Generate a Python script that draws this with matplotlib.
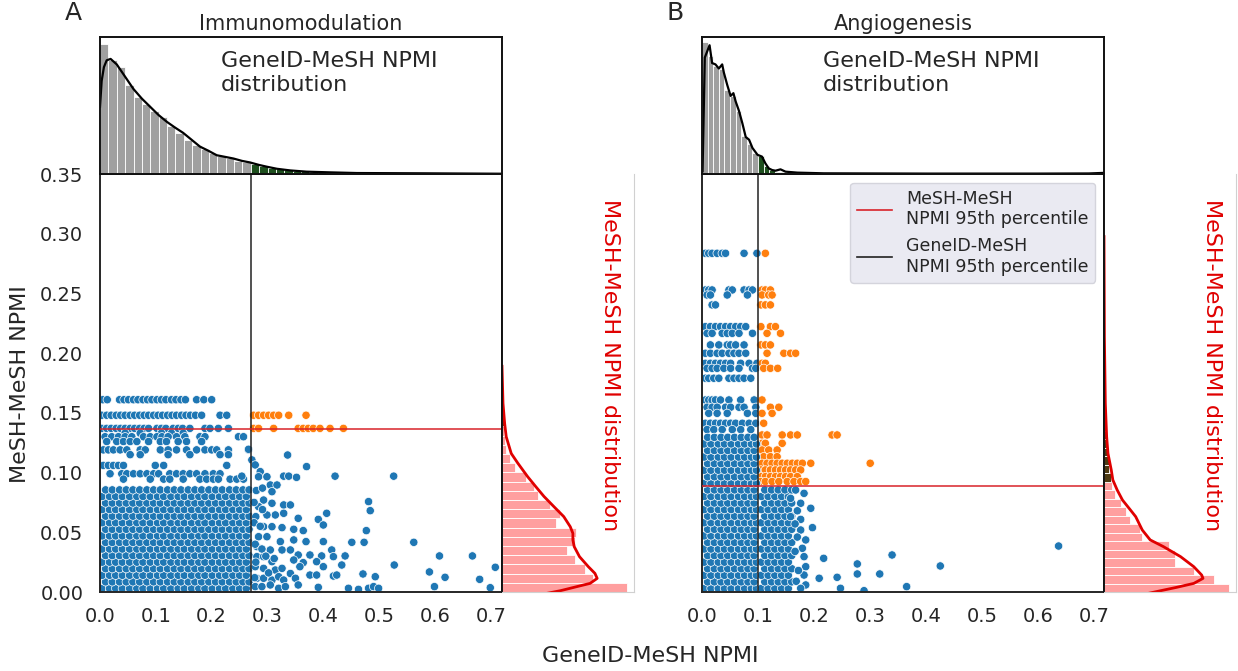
import numpy as np
import matplotlib
matplotlib.use("Agg")
import matplotlib.pyplot as plt
from matplotlib.lines import Line2D

# ---------------- data ----------------
# 95th percentile thresholds (GeneID-MeSH on x, MeSH-MeSH on y)
a_thr_x, a_thr_y = 0.27, 0.1365
b_thr_x, b_thr_y = 0.10, 0.089

# --- Panel A: Immunomodulation ---
a_row_y = [0.161, 0.148, 0.137, 0.133, 0.130, 0.126, 0.119, 0.115, 0.106, 0.099, 0.0945]
a_row_x = [
    [0.005, 0.013, 0.035, 0.043, 0.051, 0.060, 0.068, 0.077, 0.085, 0.093, 0.102, 0.110, 0.118, 0.128,
     0.136, 0.145, 0.153, 0.173, 0.186, 0.200],
    [0.003, 0.012, 0.020, 0.029, 0.037, 0.045, 0.054, 0.062, 0.071, 0.079, 0.087, 0.096, 0.104, 0.112,
     0.121, 0.129, 0.137, 0.146, 0.154, 0.162, 0.171, 0.182, 0.215, 0.227,
     0.275, 0.284, 0.293, 0.302, 0.311, 0.320, 0.338, 0.369],
    [0.003, 0.012, 0.020, 0.029, 0.037, 0.045, 0.054, 0.062, 0.071, 0.079, 0.087, 0.102, 0.110, 0.118,
     0.131, 0.140, 0.148, 0.161, 0.188, 0.197, 0.212, 0.230,
     0.275, 0.284, 0.311, 0.355, 0.364, 0.373, 0.382, 0.394, 0.412, 0.436],
    [0.045, 0.072, 0.110, 0.128, 0.149],
    [0.009, 0.021, 0.033, 0.045, 0.057, 0.078, 0.090, 0.102, 0.111, 0.122, 0.137, 0.152, 0.179, 0.188,
     0.248, 0.257],
    [0.012, 0.030, 0.042, 0.054, 0.066, 0.087, 0.108, 0.119, 0.140, 0.155, 0.182],
    [0.006, 0.015, 0.024, 0.036, 0.048, 0.072, 0.081, 0.108, 0.122, 0.137, 0.155, 0.173, 0.188, 0.200,
     0.209, 0.230, 0.266],
    [0.054, 0.072, 0.122, 0.161, 0.215, 0.230],
    [0.006, 0.015, 0.024, 0.033, 0.042, 0.099, 0.114, 0.227],
    [0.018, 0.039, 0.048, 0.060, 0.072, 0.084, 0.096, 0.105, 0.125, 0.137, 0.149, 0.161, 0.173, 0.188,
     0.203, 0.215],
    [0.042, 0.090, 0.114, 0.125, 0.149, 0.179, 0.191, 0.203, 0.212, 0.233, 0.245, 0.257],
]
a_dense_y = [0.003, 0.0085, 0.014, 0.0195, 0.025, 0.0305, 0.036, 0.0415, 0.047, 0.0525, 0.058, 0.0635,
             0.069, 0.0745, 0.080, 0.0855]
a_dense_x_even = [0.004, 0.017, 0.028, 0.040, 0.053, 0.066, 0.077, 0.090, 0.103, 0.114, 0.127, 0.140,
                  0.151, 0.164, 0.177, 0.188, 0.201, 0.214, 0.225, 0.238, 0.250, 0.262]
a_dense_x_odd = [0.010, 0.022, 0.035, 0.047, 0.059, 0.071, 0.084, 0.096, 0.108, 0.121, 0.133, 0.145,
                 0.158, 0.170, 0.182, 0.195, 0.207, 0.219, 0.232, 0.244, 0.256, 0.267]
a_sparse = [
    (0.266, 0.1195), (0.336, 0.1147), (0.272, 0.1106), (0.278, 0.1064), (0.370, 0.105), (0.287, 0.1008),
    (0.284, 0.0965), (0.299, 0.0965), (0.329, 0.097), (0.338, 0.097), (0.352, 0.096), (0.421, 0.097),
    (0.526, 0.097), (0.254, 0.097), (0.305, 0.0896), (0.317, 0.0896), (0.308, 0.084), (0.293, 0.077),
    (0.308, 0.0743), (0.284, 0.0715), (0.329, 0.0729), (0.341, 0.0729), (0.481, 0.0757), (0.484, 0.0681),
    (0.406, 0.0659), (0.391, 0.0608), (0.400, 0.0561), (0.355, 0.0617), (0.329, 0.0659), (0.314, 0.0645),
    (0.299, 0.0645), (0.279, 0.0631), (0.293, 0.0547), (0.308, 0.0547), (0.326, 0.0539), (0.347, 0.0525),
    (0.364, 0.0514), (0.477, 0.0514), (0.284, 0.0463), (0.299, 0.0463), (0.323, 0.0422), (0.347, 0.0436),
    (0.369, 0.0422), (0.400, 0.0422), (0.451, 0.0416), (0.473, 0.0416), (0.562, 0.0416), (0.281, 0.038),
    (0.305, 0.0352), (0.326, 0.0352), (0.341, 0.0352), (0.415, 0.0352), (0.355, 0.031), (0.376, 0.031),
    (0.397, 0.0302), (0.418, 0.0296), (0.439, 0.0302), (0.608, 0.0302), (0.667, 0.0302), (0.281, 0.0296),
    (0.293, 0.0296), (0.347, 0.0268), (0.308, 0.0254), (0.364, 0.0246), (0.388, 0.0254), (0.433, 0.0226),
    (0.527, 0.0226), (0.358, 0.0212), (0.400, 0.0212), (0.708, 0.0207), (0.278, 0.0212), (0.293, 0.0198),
    (0.314, 0.0184), (0.326, 0.0198), (0.341, 0.0155), (0.590, 0.0168), (0.471, 0.0151), (0.376, 0.0142),
    (0.388, 0.0142), (0.418, 0.0134), (0.424, 0.0142), (0.493, 0.0128), (0.618, 0.0123), (0.680, 0.0106),
    (0.350, 0.0115), (0.281, 0.0115), (0.293, 0.0115), (0.308, 0.010), (0.320, 0.0128), (0.329, 0.010),
    (0.278, 0.0045), (0.290, 0.0045), (0.305, 0.0059), (0.320, 0.0031), (0.332, 0.0045), (0.355, 0.0059),
    (0.391, 0.0039), (0.445, 0.0031), (0.463, 0.0022), (0.481, 0.0031), (0.490, 0.0045), (0.499, 0.0031),
    (0.599, 0.0045), (0.699, 0.0036), (0.276, 0.058), (0.278, 0.040), (0.279, 0.025), (0.277, 0.012),
    (0.290, 0.036), (0.287, 0.055), (0.291, 0.069), (0.297, 0.030), (0.312, 0.028), (0.302, 0.016),
    (0.280, 0.085), (0.276, 0.075), (0.291, 0.087),
]
# top marginal: GeneID-MeSH histogram (bin width 0.015), heights relative to panel height
a_top_bin = 0.015
a_top_h = [0.95, 0.83, 0.78, 0.65, 0.56, 0.51, 0.46, 0.415, 0.35, 0.30, 0.25, 0.21, 0.185, 0.15, 0.13,
           0.115, 0.096, 0.084,
           0.070, 0.058, 0.046, 0.038, 0.030, 0.024, 0.019, 0.015, 0.012, 0.010, 0.009, 0.008, 0.007,
           0.006, 0.005, 0.005, 0.004, 0.004, 0.003, 0.003, 0.003, 0.002, 0.002, 0.002, 0.002, 0.002,
           0.001, 0.001, 0.001, 0.001]
a_top_kde_x = [0.0, 0.003, 0.007, 0.012, 0.019, 0.030, 0.045, 0.060, 0.075, 0.090, 0.105, 0.120, 0.134,
               0.149, 0.164, 0.179, 0.194, 0.209, 0.224, 0.239, 0.254, 0.269, 0.284, 0.299, 0.317, 0.341,
               0.370, 0.412, 0.460, 0.580, 0.717]
a_top_kde_y = [0.49, 0.68, 0.78, 0.83, 0.84, 0.80, 0.71, 0.62, 0.55, 0.49, 0.43, 0.38, 0.34, 0.30, 0.25,
               0.20, 0.17, 0.137, 0.125, 0.113, 0.096, 0.084, 0.067, 0.053, 0.038, 0.026, 0.017, 0.012,
               0.007, 0.005, 0.002]
# right marginal: MeSH-MeSH histogram (bin width 0.0077), widths relative to panel width
a_right_bin = 0.0077
a_right_w = [0.95, 0.69, 0.63, 0.55, 0.49, 0.55, 0.56, 0.41, 0.44, 0.36, 0.27, 0.245, 0.18, 0.095,
             0.057, 0.03, 0.02, 0.015, 0.012, 0.01, 0.008]
a_right_kde_x = [0.0, 0.0075, 0.02, 0.032, 0.070, 0.119, 0.194, 0.256, 0.318, 0.393, 0.468, 0.517, 0.537,
                 0.537, 0.547, 0.587, 0.654, 0.704, 0.721, 0.667, 0.567, 0.443, 0.30]
a_right_kde_y = [0.189, 0.158, 0.1412, 0.130, 0.116, 0.108, 0.0966, 0.0882, 0.080, 0.0715, 0.0631,
                 0.0547, 0.0491, 0.0436, 0.038, 0.0296, 0.0212, 0.0156, 0.0114, 0.0072, 0.0045, 0.0011,
                 -0.002]

# --- Panel B: Angiogenesis ---
b_row_y = [0.2836, 0.2529, 0.2487, 0.2404, 0.2222, 0.2166, 0.2069, 0.1999, 0.1915, 0.1873, 0.1790,
           0.1608, 0.1547, 0.1496, 0.1413, 0.1360, 0.1315, 0.1245, 0.1189, 0.1133, 0.1078, 0.1022,
           0.0966, 0.0925]
b_row_x = [
    [0.006, 0.012, 0.018, 0.027, 0.036, 0.042, 0.075, 0.098, 0.113],
    [0.006, 0.012, 0.018, 0.048, 0.054, 0.075, 0.084, 0.090, 0.107, 0.113, 0.122],
    [0.009, 0.015, 0.045, 0.081, 0.107, 0.119, 0.125],
    [0.018, 0.024, 0.105, 0.113, 0.122],
    [0.006, 0.015, 0.024, 0.033, 0.042, 0.051, 0.060, 0.069, 0.078, 0.105, 0.122, 0.131],
    [0.009, 0.018, 0.036, 0.045, 0.054, 0.066, 0.090, 0.116, 0.140],
    [0.015, 0.030, 0.045, 0.051, 0.060, 0.075, 0.105, 0.113, 0.122],
    [0.006, 0.015, 0.027, 0.036, 0.048, 0.057, 0.066, 0.078, 0.116, 0.146, 0.158, 0.167],
    [0.006, 0.015, 0.024, 0.033, 0.042, 0.051, 0.069, 0.084, 0.098, 0.107, 0.113],
    [0.009, 0.018, 0.027, 0.039, 0.051, 0.066, 0.090, 0.096, 0.110, 0.122, 0.135],
    [0.006, 0.012, 0.021, 0.030, 0.048, 0.057, 0.066, 0.075, 0.087],
    [0.006, 0.012, 0.018, 0.024, 0.033, 0.048, 0.069, 0.093, 0.107],
    [0.009, 0.018, 0.027, 0.042, 0.051, 0.066, 0.075, 0.096, 0.122, 0.137],
    [0.012, 0.027, 0.045, 0.081, 0.096, 0.107, 0.125],
    [0.006, 0.015, 0.024, 0.033, 0.042, 0.051, 0.060, 0.072, 0.084, 0.096, 0.110],
    [0.009, 0.021, 0.036, 0.054, 0.069, 0.087],
    [0.107, 0.116, 0.143, 0.158, 0.170, 0.232, 0.241],
    [0.107, 0.113, 0.143],
    [0.107, 0.119, 0.134],
    [0.110, 0.122, 0.134],
    [0.107, 0.116, 0.125, 0.134, 0.143, 0.152, 0.161, 0.170, 0.179, 0.194, 0.300],
    [0.105, 0.113, 0.122, 0.131, 0.140, 0.149, 0.158, 0.167, 0.176],
    [0.105, 0.113, 0.122, 0.131, 0.140, 0.149, 0.158, 0.170],
    [0.105, 0.113, 0.125, 0.137, 0.152, 0.164, 0.176, 0.185],
]
b_dense_y = [0.003, 0.0085, 0.014, 0.0195, 0.025, 0.0305, 0.036, 0.0415, 0.047, 0.0525, 0.058, 0.0635,
             0.069, 0.0745, 0.080, 0.0855, 0.091, 0.0965, 0.102, 0.1075, 0.113, 0.1185, 0.124, 0.1295]
b_dense_x_even = [0.004, 0.016, 0.029, 0.040, 0.052, 0.065, 0.076, 0.088, 0.097]
b_dense_x_odd = [0.010, 0.022, 0.034, 0.046, 0.058, 0.070, 0.082, 0.093]
b_right_y = [0.003, 0.0085, 0.014, 0.0195, 0.025, 0.0305, 0.036, 0.0415, 0.047, 0.0525, 0.058, 0.0635,
             0.069, 0.0745, 0.080, 0.0855]
b_right_x_even = [0.106, 0.118, 0.130, 0.142, 0.154]
b_right_x_odd = [0.112, 0.124, 0.136, 0.148, 0.160]
b_sparse = [
    (0.167, 0.0854), (0.182, 0.0826), (0.158, 0.0784), (0.176, 0.0743), (0.194, 0.0701), (0.158, 0.0631),
    (0.176, 0.0608), (0.197, 0.0539), (0.176, 0.0519), (0.185, 0.0436), (0.179, 0.0366), (0.182, 0.0296),
    (0.185, 0.0212), (0.182, 0.0142), (0.185, 0.0059), (0.176, 0.0031), (0.217, 0.0282), (0.277, 0.0235),
    (0.339, 0.031), (0.425, 0.0218), (0.636, 0.0385), (0.209, 0.0115), (0.241, 0.0123), (0.277, 0.0151),
    (0.317, 0.0151), (0.365, 0.0045), (0.247, 0.0031), (0.289, 0.0011), (0.170, 0.046), (0.166, 0.034),
    (0.172, 0.018), (0.168, 0.009), (0.166, 0.057), (0.170, 0.068),
]
b_top_bin = 0.01
b_top_h = [0.96, 0.86, 0.79, 0.77, 0.61, 0.57, 0.46, 0.28, 0.22, 0.15,
           0.13, 0.055, 0.03, 0.018, 0.012, 0.010, 0.008, 0.006, 0.005, 0.004, 0.004, 0.003, 0.003,
           0.003, 0.002, 0.002, 0.002, 0.002, 0.002, 0.002, 0.002, 0.002, 0.002, 0.001, 0.001, 0.001,
           0.001, 0.001, 0.001, 0.001, 0.001, 0.001, 0.001, 0.001, 0.001, 0.001, 0.001, 0.001, 0.001,
           0.001, 0.001, 0.001, 0.001, 0.001, 0.001, 0.001, 0.001, 0.001, 0.001, 0.001, 0.001, 0.001,
           0.001, 0.001, 0.001, 0.001, 0.001, 0.002, 0.002, 0.003, 0.004]
b_top_kde_x = [0.001, 0.005, 0.0135, 0.018, 0.024, 0.030, 0.036, 0.039, 0.045, 0.051, 0.056, 0.060,
               0.066, 0.072, 0.078, 0.084, 0.090, 0.099, 0.107, 0.113, 0.119, 0.125, 0.131, 0.140, 0.149,
               0.170, 0.217, 0.400, 0.600, 0.690, 0.716]
b_top_kde_y = [0.02, 0.85, 0.94, 0.81, 0.80, 0.77, 0.80, 0.74, 0.65, 0.57, 0.59, 0.53, 0.46, 0.37, 0.27,
               0.25, 0.19, 0.14, 0.127, 0.078, 0.041, 0.029, 0.024, 0.034, 0.017, 0.010, 0.005, 0.003,
               0.003, 0.004, 0.008]
b_right_bin = 0.0071
b_right_w = [0.95, 0.83, 0.68, 0.54, 0.54, 0.49, 0.29, 0.27, 0.20, 0.17, 0.13, 0.08, 0.06, 0.055, 0.04,
             0.04, 0.03, 0.025, 0.018, 0.015, 0.012, 0.01, 0.008, 0.006, 0.005, 0.004, 0.004, 0.003,
             0.003, 0.003, 0.003, 0.003, 0.002, 0.002, 0.002, 0.002, 0.002, 0.002, 0.002, 0.002]
b_right_kde_x = [0.0, 0.003, 0.01, 0.02, 0.03, 0.055, 0.067, 0.10, 0.14, 0.20, 0.24, 0.29, 0.35, 0.45,
                 0.58, 0.68, 0.74, 0.75, 0.68, 0.55, 0.43, 0.30]
b_right_kde_y = [0.2976, 0.2139, 0.158, 0.1301, 0.1161, 0.1022, 0.0938, 0.0854, 0.077, 0.0687, 0.0631,
                 0.0519, 0.0436, 0.038, 0.0296, 0.0212, 0.0142, 0.0114, 0.0072, 0.0039, 0.0011, -0.002]

xticks = [0.0, 0.1, 0.2, 0.3, 0.4, 0.5, 0.6, 0.7]
yticks = [0.00, 0.05, 0.10, 0.15, 0.20, 0.25, 0.30, 0.35]

BLUE, ORANGE = "#1f77b4", "#ff7f0e"
EDGE = "#262626"

plt.rcParams["font.family"] = ["DejaVu Sans"]
plt.rcParams["text.color"] = EDGE
plt.rcParams["xtick.color"] = EDGE
plt.rcParams["ytick.color"] = EDGE


def build_points(row_y, row_x, dense_blocks, sparse):
    xs, ys = [], []
    for y, row in zip(row_y, row_x):
        xs.extend(row)
        ys.extend([y] * len(row))
    for dy, even, odd in dense_blocks:
        for i, y in enumerate(dy):
            row = even if i % 2 == 0 else odd
            xs.extend(row)
            ys.extend([y] * len(row))
    for x, y in sparse:
        xs.append(x)
        ys.append(y)
    return np.array(xs), np.array(ys)


def draw_panel(fig, left, label, title, xs, ys, thr_x, thr_y, xmax,
               top_bin, top_h, kde_tx, kde_ty, right_bin, right_w, kde_rx, kde_ry,
               show_y, legend):
    W, H = 1238.0, 671.0
    main_w, marg_w = 402 / W, 132 / W
    bottom, main_h = 79 / H, 418 / H
    ax = fig.add_axes([left, bottom, main_w, main_h])
    ax_top = fig.add_axes([left, bottom + main_h, main_w, 137 / H])
    ax_r = fig.add_axes([left + main_w, bottom, marg_w, main_h])

    # main scatter
    hot = (xs > thr_x) & (ys >= thr_y)
    colors = np.where(hot, ORANGE, BLUE)
    ax.scatter(xs, ys, s=36, c=colors, edgecolors="white", linewidths=0.5, zorder=2)
    ax.axvline(thr_x, color="#222222", lw=1.1, zorder=3)
    ax.axhline(thr_y, color="#d9232a", lw=1.1, zorder=3)
    ax.set_xlim(0, xmax)
    ax.set_ylim(0, 0.35)
    ax.set_xticks(xticks)
    ax.set_xticklabels([f"{t:.1f}" for t in xticks])
    ax.set_yticks(yticks)
    if show_y:
        ax.set_yticklabels([f"{t:.2f}" for t in yticks])
    else:
        ax.set_yticklabels([])
    ax.tick_params(axis="x", length=0, pad=11, labelsize=14)
    ax.tick_params(axis="y", length=0, pad=12, labelsize=14)
    for sp in ax.spines.values():
        sp.set_color(EDGE)
        sp.set_linewidth(1.4)

    # top marginal histogram + kde
    n = len(top_h)
    edges = np.arange(n) * top_bin
    tcol = ["#a0a0a0" if e + top_bin / 2 < thr_x else "#1e4f1e" for e in edges]
    ax_top.bar(edges, top_h, width=top_bin, align="edge", color=tcol,
               edgecolor="white", linewidth=0.6)
    ax_top.plot(kde_tx, kde_ty, color="black", lw=1.6)
    ax_top.set_xlim(0, xmax)
    ax_top.set_ylim(0, 1)
    ax_top.set_xticks([])
    ax_top.set_yticks([])
    for sp in ax_top.spines.values():
        sp.set_color("#111111")
        sp.set_linewidth(1.4)
    ax_top.text(0.30, 0.90, "GeneID-MeSH NPMI\ndistribution", transform=ax_top.transAxes,
                ha="left", va="top", fontsize=16, linespacing=1.25)
    ax_top.set_title(title, fontsize=15, pad=5)

    # right marginal histogram + kde
    m = len(right_w)
    redges = np.arange(m) * right_bin
    rcol = ["#ff9f9f" if e + right_bin / 2 < thr_y else "#4d3a12" for e in redges]
    ax_r.barh(redges, right_w, height=right_bin, align="edge", color=rcol,
              edgecolor="white", linewidth=0.6)
    ax_r.plot(kde_rx, kde_ry, color="#e00000", lw=2.0)
    ax_r.set_xlim(0, 1)
    ax_r.set_ylim(0, 0.35)
    ax_r.set_xticks([])
    ax_r.set_yticks([])
    ax_r.spines["top"].set_visible(False)
    ax_r.spines["left"].set_color("#111111")
    ax_r.spines["left"].set_linewidth(1.4)
    for s in ("right", "bottom"):
        ax_r.spines[s].set_color("#d0d0d0")
        ax_r.spines[s].set_linewidth(0.8)
    ax_r.text(0.82, 0.94, "MeSH-MeSH NPMI distribution", transform=ax_r.transAxes,
              rotation=270, ha="center", va="top", color="#e00000", fontsize=16)

    fig.text(left - 27 / W, 1 - 13 / H, label, fontsize=18, ha="center", va="center")

    if legend:
        handles = [Line2D([0], [0], color="#d9232a", lw=1.2),
                   Line2D([0], [0], color="#222222", lw=1.2)]
        leg = ax.legend(handles, ["MeSH-MeSH\nNPMI 95th percentile",
                                  "GeneID-MeSH\nNPMI 95th percentile"],
                        loc="upper right", fontsize=12.5, frameon=True, fancybox=True)
        leg.get_frame().set_facecolor("#eaeaf2")
        leg.get_frame().set_edgecolor("#d4d4dc")
        leg.get_frame().set_alpha(1)
    return ax


fig = plt.figure(figsize=(12.38, 6.71), dpi=100)

a_x, a_y = build_points(a_row_y, a_row_x, [(a_dense_y, a_dense_x_even, a_dense_x_odd)], a_sparse)
b_x, b_y = build_points(b_row_y, b_row_x,
                        [(b_dense_y, b_dense_x_even, b_dense_x_odd),
                         (b_right_y, b_right_x_even, b_right_x_odd)], b_sparse)

draw_panel(fig, 100 / 1238, "A", "Immunomodulation", a_x, a_y, a_thr_x, a_thr_y, 0.72,
           a_top_bin, a_top_h, a_top_kde_x, a_top_kde_y,
           a_right_bin, a_right_w, a_right_kde_x, a_right_kde_y, True, False)
draw_panel(fig, 702 / 1238, "B", "Angiogenesis", b_x, b_y, b_thr_x, b_thr_y, 0.717,
           b_top_bin, b_top_h, b_top_kde_x, b_top_kde_y,
           b_right_bin, b_right_w, b_right_kde_x, b_right_kde_y, False, True)

fig.text(20 / 1238, 1 - 384 / 671, "MeSH-MeSH NPMI", rotation=90, ha="center", va="center", fontsize=16)
fig.text(650 / 1238, 1 - 656 / 671, "GeneID-MeSH NPMI", ha="center", va="center", fontsize=16)

fig.savefig("out.png", dpi=100)
